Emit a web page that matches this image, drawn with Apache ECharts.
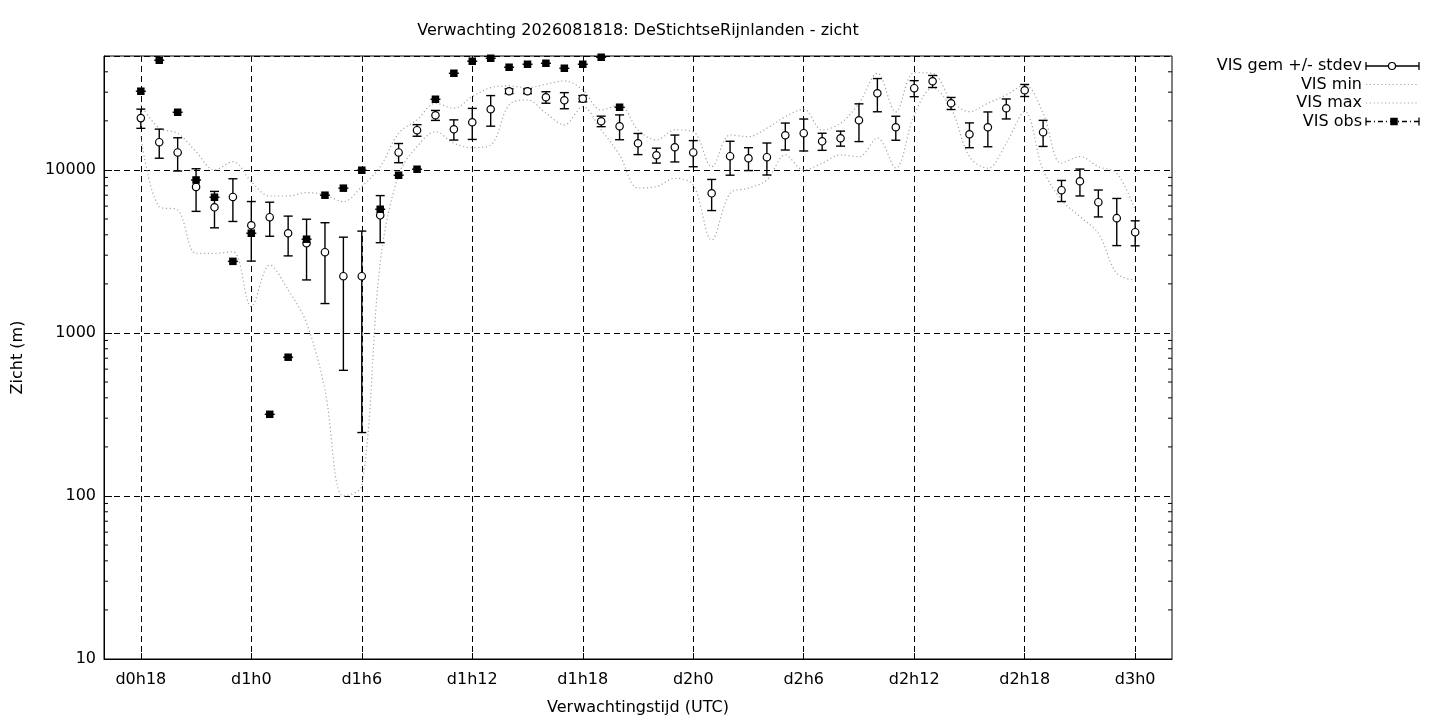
<!DOCTYPE html>
<html>
<head>
<meta charset="utf-8">
<script src="https://cdn.jsdelivr.net/npm/echarts@6/dist/echarts.min.js"></script>
<style>
html,body{margin:0;padding:0;background:#fff;}
#chart{width:1440px;height:720px;}
</style>
</head>
<body>
<div id="chart"></div>
<script>
// Forecast hours (hours after d0h0)
const hours = [18,19,20,21,22,23,24,25,26,27,28,29,30,31,32,33,34,35,36,37,38,39,40,41,42,43,44,45,46,47,48,49,50,51,52,53,54,55,56,57,58,59,60,61,62,63,64,65,66,67,68,69,70,71,72];
// Ensemble mean visibility (m)
const visMean = [20800,14800,12800,7870,5900,6830,4580,5130,4090,3550,3130,2230,2230,5270,12800,17530,21650,17770,19620,23570,30400,30400,27930,26770,27380,19900,18540,14580,12310,13780,12800,7190,12140,11800,11970,16320,16800,14990,15650,20180,29550,18280,31720,35010,25660,16560,18280,23900,30830,17040,7510,8525,6340,5060,4150];
// Standard deviation (m)
const visStdev = [2800,3000,2950,2300,1485,2000,1820,1210,1120,1435,1615,1640,1985,1690,1725,1435,1520,2520,4235,5015,1010,1010,2270,3035,1215,1475,3220,2160,1295,2585,2335,1555,2855,1890,2660,3070,3725,1800,1655,5255,6805,3070,3580,2975,2180,2875,4405,3350,2615,3105,1110,1600,1190,1625,725];
// Ensemble minimum (m)
const visMin = [16000,5950,5680,3080,3080,3150,1450,2610,1840,1150,447,100,115,2690,9320,13900,17180,14580,13700,14230,25060,26880,22290,18890,24450,17600,12360,7750,7900,8890,8090,3720,7190,7730,8680,12360,10000,11000,12360,12070,15720,10280,21740,31840,23900,12070,10240,14580,22790,10000,6550,5170,4090,2320,2110];
// Ensemble maximum (m)
const visMax = [25060,18030,16800,12950,10000,11240,8480,6920,6920,7260,7030,6390,7900,10480,16800,20270,25660,23900,28180,31960,32750,31960,33560,35160,30950,23340,25060,17600,15280,17600,17180,10480,16400,16000,18030,21230,23570,17600,19340,25660,39190,22700,39500,39190,26880,22790,25660,28840,33200,22290,11000,12070,10480,9540,5680];
// Observations
const obsHours = [18,19,20,21,22,23,24,25,26,27,28,29,30,31,32,33,34,35,36,37,38,39,40,41,42,43,44];
const visObs = [30400,47100,22590,8680,6800,2750,4090,317,710,3760,7000,7730,9960,5740,9280,10100,27150,39190,46430,48430,42670,44500,45130,42060,44500,49120,24250];
// Axis ticks
const xTickHours = [18,24,30,36,42,48,54,60,66,72];
const xTickLabels = ['d0h18','d1h0','d1h6','d1h12','d1h18','d2h0','d2h6','d2h12','d2h18','d3h0'];
const yTickValues = [10,100,1000,10000];
const yTickLabels = ['10','100','1000','10000'];
const yMinorTicks = [20,30,40,50,60,70,80,90,200,300,400,500,600,700,800,900,2000,3000,4000,5000,6000,7000,8000,9000,20000,30000,40000];

const FONT = 'DejaVu Sans';
const FS = 16;
const chart = echarts.init(document.getElementById('chart'), null, {renderer: 'canvas'});

function renderErr(params, api) {
  const x = api.value(0), m = api.value(1), s = api.value(2);
  const pT = api.coord([x, m + s]), pB = api.coord([x, m - s]), pC = api.coord([x, m]);
  const cap = 4.5;
  const st = {stroke: '#000', lineWidth: 1.4};
  return {type: 'group', children: [
    {type: 'line', shape: {x1: pT[0], y1: pT[1], x2: pB[0], y2: pB[1]}, style: st},
    {type: 'line', shape: {x1: pT[0] - cap, y1: pT[1], x2: pT[0] + cap, y2: pT[1]}, style: st},
    {type: 'line', shape: {x1: pB[0] - cap, y1: pB[1], x2: pB[0] + cap, y2: pB[1]}, style: st},
    {type: 'circle', shape: {cx: pC[0], cy: pC[1], r: 3.7}, style: {fill: '#fff', stroke: '#000', lineWidth: 1.2}}
  ]};
}
function renderObs(params, api) {
  const p = api.coord([api.value(0), api.value(1)]);
  return {type: 'group', children: [
    {type: 'line', shape: {x1: p[0] - 5, y1: p[1], x2: p[0] + 5, y2: p[1]}, style: {stroke: '#000', lineWidth: 1.4}},
    {type: 'rect', shape: {x: p[0] - 3.75, y: p[1] - 3.75, width: 7.5, height: 7.5}, style: {fill: '#000'}}
  ]};
}
function renderMinor(params, api) {
  const cs = params.coordSys;
  const p = api.coord([api.value(0), api.value(1)]);
  const len = 4;
  const st = {stroke: '#000', lineWidth: 1};
  return {type: 'group', children: [
    {type: 'line', shape: {x1: cs.x, y1: p[1], x2: cs.x + len, y2: p[1]}, style: st},
    {type: 'line', shape: {x1: cs.x + cs.width - len, y1: p[1], x2: cs.x + cs.width, y2: p[1]}, style: st}
  ]};
}

const dottedGray = {color: '#a6a6a6', width: 1.2, type: [1.2, 2.6]};
const legendX = 1362, sx1 = 1366, sx2 = 1419;
const rowsY = [66, 84.5, 103, 121.5];
const legendNames = ['VIS gem +/- stdev', 'VIS min', 'VIS max', 'VIS obs'];
const graphics = [];
legendNames.forEach((n, i) => {
  graphics.push({type: 'text', x: legendX, y: rowsY[i], style: {text: n, font: FS + 'px "' + FONT + '"', fill: '#000', align: 'right', verticalAlign: 'middle'}});
});
const lineSt = {stroke: '#000', lineWidth: 1.3};
// row 1 sample
graphics.push({type: 'line', shape: {x1: sx1, y1: rowsY[0], x2: sx2, y2: rowsY[0]}, style: lineSt});
graphics.push({type: 'line', shape: {x1: sx1, y1: rowsY[0] - 4, x2: sx1, y2: rowsY[0] + 4}, style: lineSt});
graphics.push({type: 'line', shape: {x1: sx2, y1: rowsY[0] - 4, x2: sx2, y2: rowsY[0] + 4}, style: lineSt});
graphics.push({type: 'circle', shape: {cx: 1392, cy: rowsY[0], r: 3.5}, style: {fill: '#fff', stroke: '#000', lineWidth: 1.2}});
// rows 2,3 samples
[1, 2].forEach(i => graphics.push({type: 'line', shape: {x1: sx1, y1: rowsY[i], x2: sx2, y2: rowsY[i]}, style: {stroke: '#a6a6a6', lineWidth: 1.2, lineDash: [1.2, 2.6]}}));
// row 4 sample
graphics.push({type: 'line', shape: {x1: sx1, y1: rowsY[3], x2: sx2, y2: rowsY[3]}, style: {stroke: '#000', lineWidth: 1.3, lineDash: [5, 3, 1, 3]}});
graphics.push({type: 'line', shape: {x1: sx1, y1: rowsY[3] - 4, x2: sx1, y2: rowsY[3] + 4}, style: lineSt});
graphics.push({type: 'line', shape: {x1: sx2, y1: rowsY[3] - 4, x2: sx2, y2: rowsY[3] + 4}, style: lineSt});
graphics.push({type: 'rect', shape: {x: 1394 - 3.75, y: rowsY[3] - 3.75, width: 7.5, height: 7.5}, style: {fill: '#000'}});

const option = {
  backgroundColor: '#fff',
  animation: false,
  title: {
    text: 'Verwachting 2026081818: DeStichtseRijnlanden - zicht',
    left: 638, top: 23, padding: 0, textAlign: 'center',
    textStyle: {fontFamily: FONT, fontSize: FS, fontWeight: 'normal', color: '#000'}
  },
  grid: {left: 104, right: 268, top: 56, bottom: 61, containLabel: false, outerBoundsMode: 'none',
    show: true, borderColor: '#000', borderWidth: 1, backgroundColor: 'transparent'},
  xAxis: {
    type: 'value', min: 16, max: 74,
    name: 'Verwachtingstijd (UTC)', nameLocation: 'middle', nameGap: 41,
    nameTextStyle: {fontFamily: FONT, fontSize: FS, color: '#000'},
    axisLine: {show: true, lineStyle: {color: '#000', width: 1}},
    axisTick: {show: true, inside: true, length: 6, customValues: xTickHours, lineStyle: {color: '#000'}},
    axisLabel: {customValues: xTickHours, margin: 13, fontFamily: FONT, fontSize: FS, color: '#000',
      formatter: v => { const i = xTickHours.indexOf(Math.round(v)); return i >= 0 ? xTickLabels[i] : ''; }},
    splitLine: {show: true, lineStyle: {color: '#000', width: 1, type: [6, 4]}}
  },
  yAxis: {
    type: 'log', logBase: 10, min: 10, max: 50000,
    name: 'Zicht (m)', nameLocation: 'middle', nameGap: 78, nameRotate: 90,
    nameTextStyle: {fontFamily: FONT, fontSize: FS, color: '#000'},
    axisLine: {show: true, lineStyle: {color: '#000', width: 1}},
    axisTick: {show: true, inside: true, length: 8, lineStyle: {color: '#000'}},
    axisLabel: {margin: 8, fontFamily: FONT, fontSize: FS, color: '#000', showMaxLabel: false,
      formatter: v => { const i = yTickValues.findIndex(t => Math.abs(t - v) / t < 1e-6); return i >= 0 ? yTickLabels[i] : ''; }},
    splitLine: {show: true, lineStyle: {color: '#000', width: 1, type: [6, 4]}},
    minorTick: {show: false}
  },
  graphic: graphics,
  series: [
    {name: 'VIS min', type: 'line', smooth: 0.35, showSymbol: false, symbol: 'none', silent: true, z: 2,
      lineStyle: dottedGray, data: hours.map((h, i) => [h, visMin[i]])},
    {name: 'VIS max', type: 'line', smooth: 0.35, showSymbol: false, symbol: 'none', silent: true, z: 2,
      lineStyle: dottedGray, data: hours.map((h, i) => [h, visMax[i]])},
    {name: 'VIS gem +/- stdev', type: 'custom', renderItem: renderErr, z: 5, silent: true,
      dimensions: ['x', 'mean', 'sd'], encode: {x: 0, y: 1},
      data: hours.map((h, i) => [h, visMean[i], visStdev[i]])},
    {name: 'VIS obs', type: 'custom', renderItem: renderObs, z: 6, silent: true, clip: false,
      encode: {x: 0, y: 1}, data: obsHours.map((h, i) => [h, visObs[i]])},
    {name: 'minor ticks', type: 'custom', renderItem: renderMinor, z: 7, silent: true,
      encode: {x: 0, y: 1}, data: yMinorTicks.map(v => [16, v])}
  ]
};
chart.setOption(option);
</script>
</body>
</html>
